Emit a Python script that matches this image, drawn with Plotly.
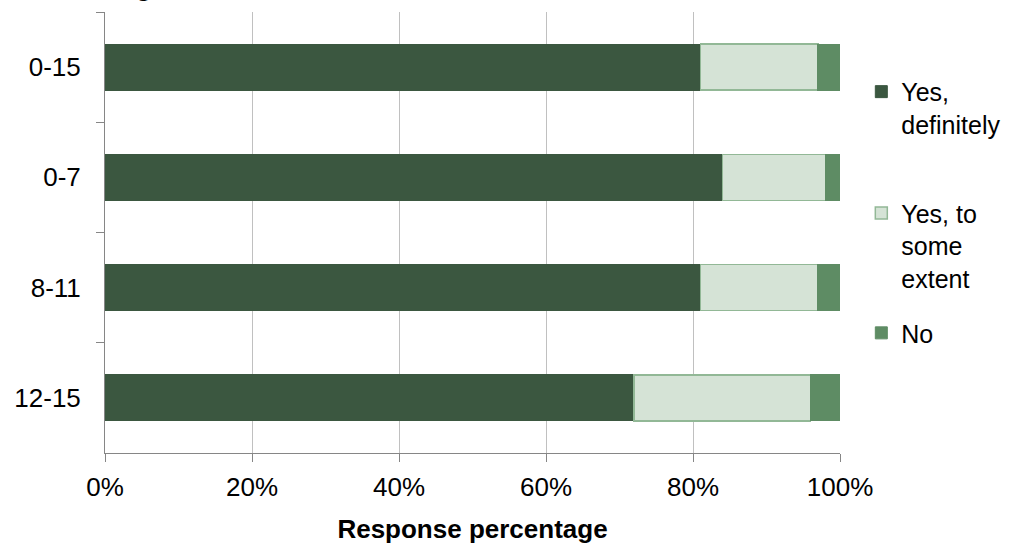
import plotly.graph_objects as go

categories = ["0-15", "0-7", "8-11", "12-15"]
yes_definitely = [81, 84, 81, 72]
yes_some_extent = [16, 14, 16, 24]
no = [3, 2, 3, 4]
series_names = ["Yes,<br>definitely", "Yes, to<br>some<br>extent", "No"]
x_ticks = [0, 20, 40, 60, 80, 100]
x_ticklabels = ["0%", "20%", "40%", "60%", "80%", "100%"]

FONT = "Liberation Sans, Arial, sans-serif"
FS = 26
LFS = 25

fig = go.Figure()
fig.add_trace(go.Bar(y=categories, x=yes_definitely, orientation="h", name=series_names[0],
                     legend="legend",
                     marker=dict(color="#3B5740", line=dict(color="#3B5740", width=1))))
fig.add_trace(go.Bar(y=categories, x=yes_some_extent, orientation="h", name=series_names[1],
                     legend="legend2",
                     marker=dict(color="#D5E3D6", line=dict(color="#92B896", width=1.5))))
fig.add_trace(go.Bar(y=categories, x=no, orientation="h", name=series_names[2],
                     legend="legend3",
                     marker=dict(color="#5E8C64", line=dict(color="#5E8C64", width=1))))

leg_common = dict(x=1.029, xanchor="left", yanchor="top", valign="top",
                  font=dict(family=FONT, size=LFS, color="black"), itemwidth=30,
                  bgcolor="rgba(0,0,0,0)")

fig.update_layout(
    width=1016, height=544,
    barmode="stack",
    bargap=0.584,
    plot_bgcolor="white", paper_bgcolor="white",
    margin=dict(l=105, r=176, t=12, b=91, autoexpand=False),
    font=dict(family=FONT, size=FS, color="black"),
    legend=dict(y=0.871, **leg_common),
    legend2=dict(y=0.596, **leg_common),
    legend3=dict(y=0.324, **leg_common),
    xaxis=dict(range=[0, 100], tickvals=x_ticks, ticktext=x_ticklabels,
               showgrid=True, gridcolor="#C0C0C0", gridwidth=1,
               showline=True, linecolor="#868686", linewidth=1,
               ticks="outside", ticklen=8, tickcolor="#868686",
               tickfont=dict(family=FONT, size=FS), ticklabelstandoff=3,
               title=dict(text="<b>Response percentage</b>", font=dict(family=FONT, size=26), standoff=21),
               zeroline=False, fixedrange=True, automargin=False),
    yaxis=dict(categoryorder="array", categoryarray=categories, autorange="reversed",
               showline=True, linecolor="#868686", linewidth=1,
               ticks="outside", ticklen=8, tickcolor="#868686", tickson="boundaries",
               tickfont=dict(family=FONT, size=FS), showgrid=False, ticklabelstandoff=18,
               automargin=False, fixedrange=True),
    showlegend=True,
)

fig.add_annotation(text="<b>Age</b>", xref="paper", yref="paper", x=0.014, y=1.0,
                   xanchor="left", yanchor="bottom", yshift=8, showarrow=False,
                   font=dict(family=FONT, size=FS, color="black"))

fig.write_html("out.html", config={"displayModeBar": False},
               post_script="document.body.style.margin='0';document.body.style.overflow='hidden';")
